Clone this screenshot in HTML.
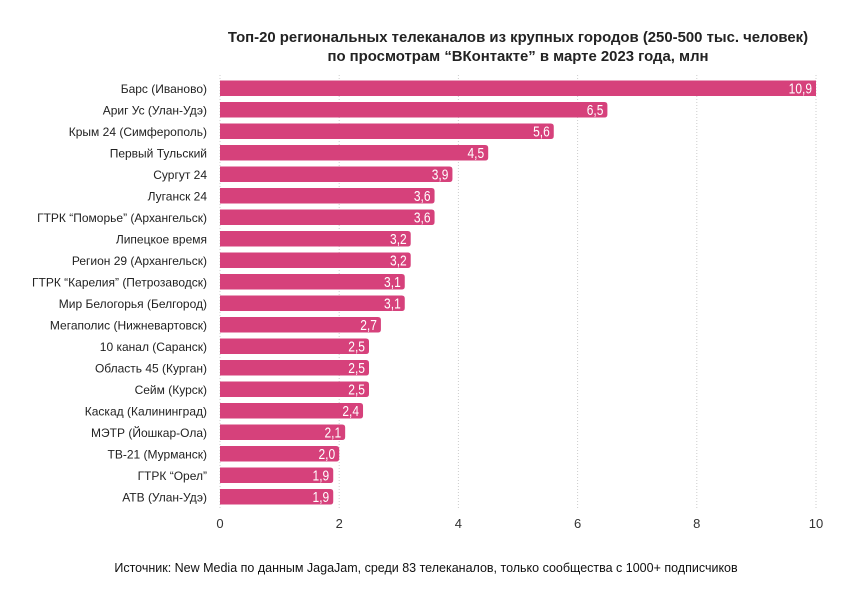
<!DOCTYPE html>
<html><head><meta charset="utf-8"><style>
body{margin:0;background:#fff;}
svg text{font-family:"Liberation Sans",sans-serif;}
</style></head><body>
<svg id="chart" width="860" height="608" viewBox="0 0 860 608" xmlns="http://www.w3.org/2000/svg">
<text x="518" y="42" text-anchor="middle" font-size="14.9" font-weight="bold" fill="#222">Топ-20 региональных телеканалов из крупных городов (250-500 тыс. человек)</text>
<text x="518" y="61" text-anchor="middle" font-size="14.9" font-weight="bold" fill="#222">по просмотрам “ВКонтакте” в марте 2023 года, млн</text>
<g id="grid"></g><g id="bars"></g><g id="labels"></g><g id="ticks"></g>
<text x="426" y="572" text-anchor="middle" font-size="12.5" fill="#111">Источник: New Media по данным JagaJam, среди 83 телеканалов, только сообщества с 1000+ подписчиков</text>
</svg>
<script>
const categories=["Барс (Иваново)","Ариг Ус (Улан-Удэ)","Крым 24 (Симферополь)","Первый Тульский","Сургут 24","Луганск 24","ГТРК “Поморье” (Архангельск)","Липецкое время","Регион 29 (Архангельск)","ГТРК “Карелия” (Петрозаводск)","Мир Белогорья (Белгород)","Мегаполис (Нижневартовск)","10 канал (Саранск)","Область 45 (Курган)","Сейм (Курск)","Каскад (Калининград)","МЭТР (Йошкар-Ола)","ТВ-21 (Мурманск)","ГТРК “Орел”","АТВ (Улан-Удэ)"];
const values=[10.9,6.5,5.6,4.5,3.9,3.6,3.6,3.2,3.2,3.1,3.1,2.7,2.5,2.5,2.5,2.4,2.1,2.0,1.9,1.9];
const tickValues=[0,2,4,6,8,10];
const NS="http://www.w3.org/2000/svg";
const x0=220,x1=816,xmax=10;
const xs=v=>x0+(Math.min(v,xmax)/xmax)*(x1-x0);
const rowTop=80.5,rowStep=21.5,barH=15.5;
const ys=i=>rowTop+i*rowStep;
function mk(t,a,p){const e=document.createElementNS(NS,t);for(const k in a)e.setAttribute(k,a[k]);document.getElementById(p).appendChild(e);return e;}
tickValues.forEach(t=>{
  const g=mk('line',{x1:xs(t),x2:xs(t),y1:75,y2:510,stroke:'#ccc','stroke-dasharray':'1,2','stroke-width':1},'grid');
  
  
  const l=mk('text',{x:xs(t),y:528,'text-anchor':'middle','font-size':13,fill:'#333'},'ticks');
  l.textContent=t;
  
  
});
categories.forEach((c,i)=>{
  const y=ys(i),w=xs(values[i])-x0;
  const clipped=values[i]>xmax;
  const r=3;
  const d=clipped?`M${x0},${y}H${x0+w}V${y+barH}H${x0}Z`:`M${x0},${y}H${x0+w-r}Q${x0+w},${y} ${x0+w},${y+r}V${y+barH-r}Q${x0+w},${y+barH} ${x0+w-r},${y+barH}H${x0}Z`;
  const b=mk('path',{d:d,fill:'#d6417b'},'bars');
  
  
  const vx=x0+w-4;
  const v=mk('text',{x:vx,y:y+barH/2+5.5,'text-anchor':'end','font-size':15,fill:'#fff',transform:`translate(${vx*0.2},0) scale(0.8,1)`},'bars');
  v.textContent=values[i].toFixed(1).replace('.',',');
  
  
  const l=mk('text',{x:207,y:y+barH/2+4.5,'text-anchor':'end','font-size':12,fill:'#222'},'labels');
  l.textContent=c;
  
  
});
</script>
</body></html>
